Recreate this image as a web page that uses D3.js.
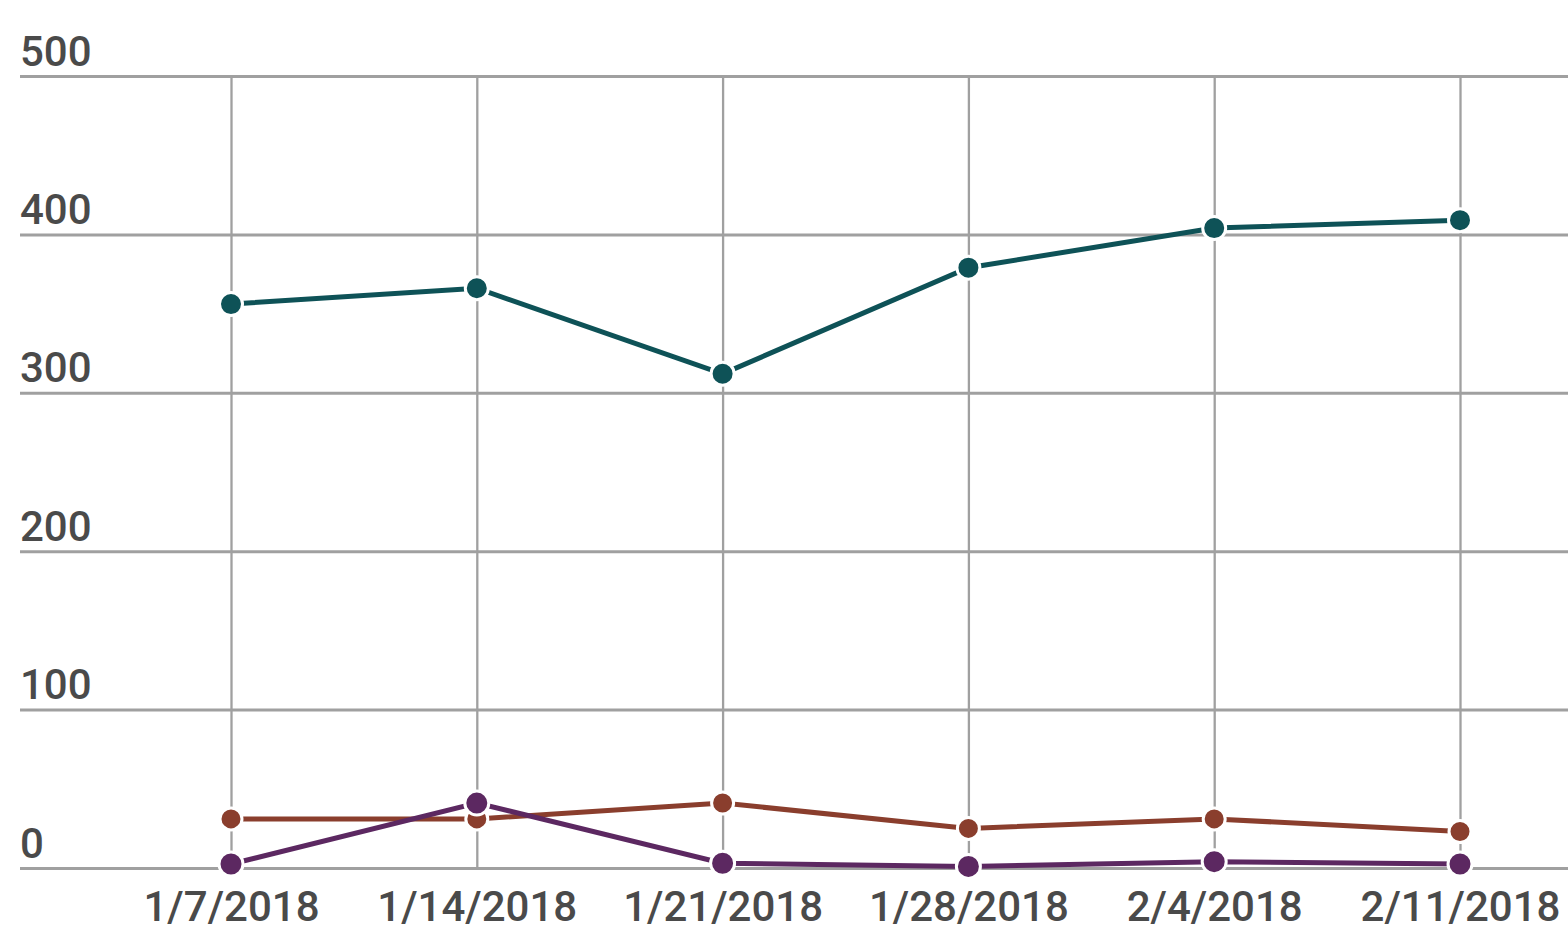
<!DOCTYPE html>
<html>
<head>
<meta charset="utf-8">
<script src="https://cdn.jsdelivr.net/npm/d3@7"></script>
<style>
  body { margin: 0; background: #fff; }
  svg { display: block; }
  .axis text { font-family: Roboto, "Noto Sans", sans-serif; fill: #4a4a4a; font-size: 42px; font-weight: 500; }
</style>
</head>
<body>
<div id="line-chart"></div>
<script>
// Data
const dates = ["1/7/2018", "1/14/2018", "1/21/2018", "1/28/2018", "2/4/2018", "2/11/2018"];
const seriesA = [356, 366, 312, 379, 404, 409];  // teal
const seriesB = [31, 31, 41, 25, 31, 23];        // brown
const seriesC = [2.5, 41, 3, 1, 4, 2.5];         // purple
const yTicks = [0, 100, 200, 300, 400, 500];

const width = 1568;
const height = 930;
const margin = {top: 76, right: 0, bottom: 62, left: 20};

const series = [
  {id: "a", values: seriesA, color: "#0e5257", r: 11.5},
  {id: "b", values: seriesB, color: "#8a3e2d", r: 11},
  {id: "c", values: seriesC, color: "#5c2861", r: 12}
];

const xScale = d3.scalePoint()
  .domain(dates)
  .range([231, 1460]);

const yScale = d3.scaleLinear()
  .domain([0, 500])
  .range([height - margin.bottom, margin.top]);

const svg = d3.select("#line-chart")
  .append("svg")
    .attr("width", width)
    .attr("height", height)
    .attr("viewBox", [0, 0, width, height]);

// Horizontal grid + y labels
const leftAxis = d3.axisLeft(yScale)
  .tickValues(yTicks)
  .tickSize(-(width - margin.left))
  .tickFormat(d3.format("d"));
const yAxis = svg.append("g")
    .attr("class", "axis axis-y")
    .attr("transform", `translate(${margin.left}, 0)`)
    .call(leftAxis);
yAxis.select(".domain").remove();
yAxis.selectAll(".tick line")
    .attr("stroke", "#a0a0a0")
    .attr("stroke-width", 3);
yAxis.selectAll(".tick text")
    .attr("x", 0)
    .attr("dy", "-11px")
    .attr("text-anchor", "start");

// Vertical grid + x labels
const bottomAxis = d3.axisBottom(xScale)
  .tickSize(-(yScale(0) - yScale(500)))
  .tickPadding(14);
const xAxis = svg.append("g")
    .attr("class", "axis axis-x")
    .attr("transform", `translate(0, ${yScale(0)})`)
    .call(bottomAxis);
xAxis.select(".domain").remove();
xAxis.selectAll(".tick line")
    .attr("stroke", "#a0a0a0")
    .attr("stroke-width", 2.3);
xAxis.selectAll(".tick text")
    .attr("dy", "0.93em");

// Lines and points
const lineGenerator = d3.line()
  .x((d, i) => xScale(dates[i]))
  .y(d => yScale(d));

series.forEach(s => {
  svg.append("path")
      .attr("d", lineGenerator(s.values))
      .attr("fill", "none")
      .attr("stroke", s.color)
      .attr("stroke-width", 5);
});

series.forEach(s => {
  svg.selectAll(`circle.pt-${s.id}`)
    .data(s.values)
    .join("circle")
      .attr("class", `pt-${s.id}`)
      .attr("cx", (d, i) => xScale(dates[i]))
      .attr("cy", d => yScale(d))
      .attr("r", s.r)
      .attr("fill", s.color)
      .attr("stroke", "#fff")
      .attr("stroke-width", 3);
});
</script>
</body>
</html>
